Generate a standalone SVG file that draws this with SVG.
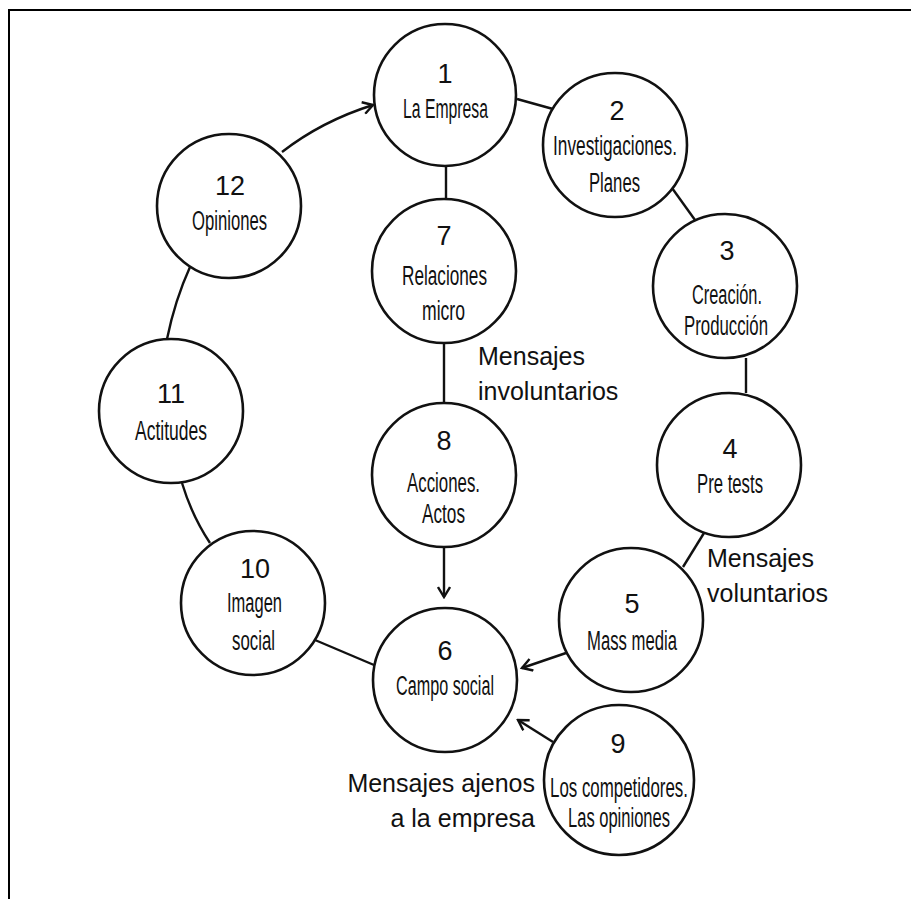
<svg xmlns="http://www.w3.org/2000/svg" width="911" height="899" viewBox="0 0 911 899">
  <style>
    .frame { fill: none; stroke: #000; stroke-width: 2; }
    .node circle { fill: #fff; stroke: #111; stroke-width: 2.6; }
    .num { font-family: "Liberation Sans", Arial, sans-serif; font-size: 27px; fill: #111; text-anchor: middle; }
    .lbl { font-family: "Liberation Sans", Arial, sans-serif; font-size: 27px; fill: #111; }
    .note { font-family: "Liberation Sans", Arial, sans-serif; font-size: 25px; fill: #111; }
    .edge { fill: none; stroke: #111; stroke-width: 2.4; }
  </style>
  <defs>
    <marker id="open-arrow" viewBox="0 0 14 14" refX="12" refY="7" markerWidth="14" markerHeight="14" markerUnits="userSpaceOnUse" orient="auto">
      <path d="M2,1 L12,7 L2,13" fill="none" stroke="#111" stroke-width="2.4"/>
    </marker>
  </defs>

  <rect width="911" height="899" fill="#fff"/>
  <path class="frame" d="M9,899 L9,10 L911,10"/>

  <!-- connectors -->
  <g id="connectors">
    <line class="edge" x1="517" y1="99" x2="553" y2="109"/>
    <line class="edge" x1="672" y1="188" x2="695" y2="220"/>
    <line class="edge" x1="746" y1="358" x2="746" y2="393"/>
    <line class="edge" x1="704" y1="533" x2="683" y2="567"/>
    <line class="edge" x1="446" y1="165" x2="446" y2="199"/>
    <line class="edge" x1="444" y1="343" x2="444" y2="403"/>
    <line class="edge" x1="444" y1="547" x2="444" y2="597" marker-end="url(#open-arrow)"/>
    <line class="edge" x1="566" y1="653" x2="522" y2="668" marker-end="url(#open-arrow)"/>
    <line class="edge" x1="553" y1="742" x2="518" y2="720" marker-end="url(#open-arrow)"/>
    <line class="edge" x1="315" y1="640" x2="374" y2="665"/>
    <path class="edge" d="M182,483 Q192,516 210,543"/>
    <path class="edge" d="M190,267 Q175,300 167,339"/>
    <path class="edge" d="M282,152 Q322,121 373,105" marker-end="url(#open-arrow)"/>
  </g>

  <!-- nodes -->
  <g id="n1" class="node">
    <circle cx="445" cy="95" r="71"/>
    <text class="num" x="445" y="83">1</text>
    <text class="lbl" x="403" y="118" textLength="85" lengthAdjust="spacingAndGlyphs">La Empresa</text>
  </g>
  <g id="n2" class="node">
    <circle cx="615" cy="145" r="72"/>
    <text class="num" x="617" y="120">2</text>
    <text class="lbl" x="553" y="155" textLength="124" lengthAdjust="spacingAndGlyphs">Investigaciones.</text>
    <text class="lbl" x="589" y="192" textLength="51" lengthAdjust="spacingAndGlyphs">Planes</text>
  </g>
  <g id="n3" class="node">
    <circle cx="725" cy="286" r="72"/>
    <text class="num" x="727" y="260">3</text>
    <text class="lbl" x="692" y="304" textLength="70" lengthAdjust="spacingAndGlyphs">Creación.</text>
    <text class="lbl" x="684" y="335" textLength="84" lengthAdjust="spacingAndGlyphs">Producción</text>
  </g>
  <g id="n4" class="node">
    <circle cx="729" cy="465" r="72"/>
    <text class="num" x="730" y="458">4</text>
    <text class="lbl" x="697" y="493" textLength="66" lengthAdjust="spacingAndGlyphs">Pre tests</text>
  </g>
  <g id="n5" class="node">
    <circle cx="631" cy="620" r="72"/>
    <text class="num" x="632" y="613">5</text>
    <text class="lbl" x="587" y="650" textLength="90" lengthAdjust="spacingAndGlyphs">Mass media</text>
  </g>
  <g id="n6" class="node">
    <circle cx="445" cy="680" r="72"/>
    <text class="num" x="445" y="660">6</text>
    <text class="lbl" x="396" y="695" textLength="98" lengthAdjust="spacingAndGlyphs">Campo social</text>
  </g>
  <g id="n7" class="node">
    <circle cx="444" cy="271" r="72"/>
    <text class="num" x="444" y="245">7</text>
    <text class="lbl" x="402" y="285" textLength="85" lengthAdjust="spacingAndGlyphs">Relaciones</text>
    <text class="lbl" x="422" y="320" textLength="43" lengthAdjust="spacingAndGlyphs">micro</text>
  </g>
  <g id="n8" class="node">
    <circle cx="444" cy="475" r="72"/>
    <text class="num" x="444" y="450">8</text>
    <text class="lbl" x="407" y="492" textLength="73" lengthAdjust="spacingAndGlyphs">Acciones.</text>
    <text class="lbl" x="422" y="523" textLength="43" lengthAdjust="spacingAndGlyphs">Actos</text>
  </g>
  <g id="n9" class="node">
    <circle cx="619" cy="780" r="75"/>
    <text class="num" x="618" y="753">9</text>
    <text class="lbl" x="550" y="797" textLength="138" lengthAdjust="spacingAndGlyphs">Los competidores.</text>
    <text class="lbl" x="568" y="827" textLength="102" lengthAdjust="spacingAndGlyphs">Las opiniones</text>
  </g>
  <g id="n10" class="node">
    <circle cx="253" cy="603" r="72"/>
    <text class="num" x="255" y="578">10</text>
    <text class="lbl" x="227" y="612" textLength="55" lengthAdjust="spacingAndGlyphs">Imagen</text>
    <text class="lbl" x="232" y="650" textLength="43" lengthAdjust="spacingAndGlyphs">social</text>
  </g>
  <g id="n11" class="node">
    <circle cx="171" cy="411" r="72"/>
    <text class="num" x="171" y="403">11</text>
    <text class="lbl" x="135" y="440" textLength="72" lengthAdjust="spacingAndGlyphs">Actitudes</text>
  </g>
  <g id="n12" class="node">
    <circle cx="229" cy="206" r="72"/>
    <text class="num" x="230" y="195">12</text>
    <text class="lbl" x="192" y="230" textLength="75" lengthAdjust="spacingAndGlyphs">Opiniones</text>
  </g>

  <!-- message-type notes -->
  <g id="notes">
    <text class="note" x="478" y="365">Mensajes</text>
    <text class="note" x="478" y="400">involuntarios</text>
    <text class="note" x="707" y="567">Mensajes</text>
    <text class="note" x="707" y="602">voluntarios</text>
    <text class="note" x="535" y="792" text-anchor="end">Mensajes ajenos</text>
    <text class="note" x="535" y="827" text-anchor="end">a la empresa</text>
  </g>
</svg>
